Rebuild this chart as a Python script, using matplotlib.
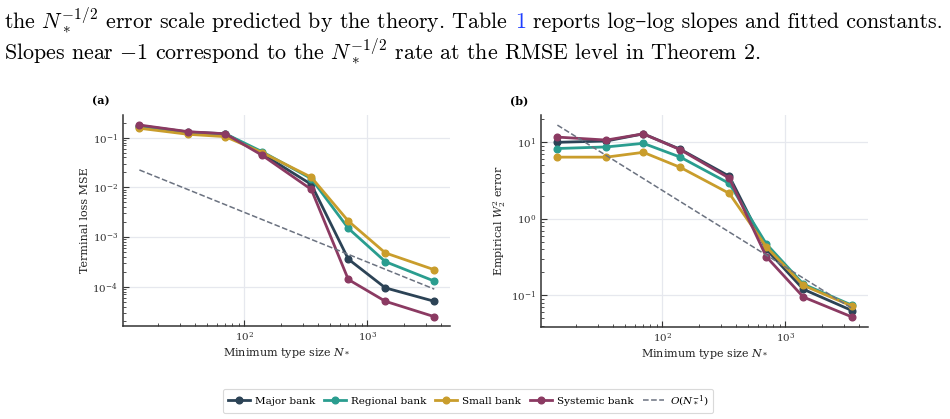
import matplotlib
matplotlib.use("Agg")
import matplotlib.pyplot as plt
import numpy as np

# ---------------- data ----------------
n_star = [14, 35, 70, 140, 350, 700, 1400, 3500]
series_names = ["Major bank", "Regional bank", "Small bank", "Systemic bank"]

mse_major = [0.175, 0.13, 0.12, 0.047, 0.0115, 3.6e-4, 9.5e-5, 5.1e-5]
mse_regional = [0.165, 0.125, 0.12, 0.052, 0.015, 1.5e-3, 3.2e-4, 1.3e-4]
mse_small = [0.155, 0.117, 0.105, 0.050, 0.016, 2.1e-3, 4.8e-4, 2.2e-4]
mse_systemic = [0.18, 0.132, 0.12, 0.044, 0.0091, 1.4e-4, 5.1e-5, 2.5e-5]

w2_major = [10.0, 10.4, 12.9, 8.1, 3.6, 0.40, 0.12, 0.063]
w2_regional = [8.3, 8.7, 9.7, 6.4, 2.9, 0.47, 0.14, 0.074]
w2_small = [6.4, 6.4, 7.4, 4.7, 2.15, 0.43, 0.135, 0.072]
w2_systemic = [11.7, 10.7, 12.9, 8.0, 3.4, 0.32, 0.095, 0.052]

ref_const_mse = 0.314
ref_const_w2 = 235.0

colors = ["#2c4356", "#2a9d8f", "#c99d2c", "#8b3a62"]
ref_color = "#6b7280"

plt.rcParams["font.family"] = ["DejaVu Serif"]
plt.rcParams["mathtext.fontset"] = "dejavuserif"

fig = plt.figure(figsize=(9.5, 4.19), dpi=100)

# ---------------- header text ----------------
renderer = fig.canvas.get_renderer()
text_kw = dict(fontsize=15.8, family=["cmr10", "DejaVu Serif"], va="baseline", ha="left")
plt.rcParams["mathtext.fontset"] = "cm"

def place_line(pieces, x0_px, y_px):
    x = x0_px
    for s, c in pieces:
        t = fig.text(x / 950, 1 - y_px / 419, s, color=c, **text_kw)
        bb = t.get_window_extent(renderer=renderer)
        x += bb.width
    return x

sp = fig.text(0, 0, "a a", **text_kw)
w_aa = fig.text(0, 0, "aa", **text_kw)
space_w = sp.get_window_extent(renderer=renderer).width - w_aa.get_window_extent(renderer=renderer).width
sp.remove(); w_aa.remove()

x = place_line([("the $N_*^{-1/2}$ error scale predicted by the theory. Table", "black")], 4, 28)
x = place_line([("1", "#1f3fff")], x + space_w, 28)
place_line([("reports log\u2013log slopes and fitted constants.", "black")], x + space_w, 28)
place_line([("Slopes near $-1$ correspond to the $N_*^{-1/2}$ rate at the RMSE level in Theorem 2.", "black")], 4, 59)

plt.rcParams["mathtext.fontset"] = "dejavuserif"

# ---------------- axes ----------------
axA = fig.add_axes([123 / 950, 1 - 326 / 419, 327 / 950, 211 / 419])
axB = fig.add_axes([541 / 950, 1 - 326.7 / 419, 327 / 950, 211.7 / 419])

def style(ax):
    ax.set_xscale("log")
    ax.set_yscale("log")
    for s in ["top", "right"]:
        ax.spines[s].set_visible(False)
    for s in ["left", "bottom"]:
        ax.spines[s].set_color("#333333")
        ax.spines[s].set_linewidth(1.1)
    ax.grid(True, which="major", color="#e6e8ee", linewidth=0.9)
    ax.set_axisbelow(True)
    ax.tick_params(which="both", direction="in", colors="#333333", labelsize=7.5)
    ax.tick_params(which="major", length=4)
    ax.tick_params(which="minor", length=2.2)
    ax.set_xlabel("Minimum type size $N_*$", fontsize=8, color="#222222", labelpad=2)

def plot_panel(ax, ys, c_ref):
    for name, y, c in zip(series_names, ys, colors):
        ax.plot(n_star, y, "-o", color=c, lw=2.0, ms=4.8, label=name)
    xr = np.array([n_star[0], n_star[-1]], dtype=float)
    ax.plot(xr, c_ref / xr, "--", color=ref_color, lw=1.1, label="$O(N_*^{-1})$")

style(axA)
plot_panel(axA, [mse_major, mse_regional, mse_small, mse_systemic], ref_const_mse)
axA.set_xlim(10.3, 4700)
axA.set_ylim(10 ** -4.79, 10 ** -0.543)
axA.set_ylabel("Terminal loss MSE", fontsize=8, color="#222222", labelpad=2)

style(axB)
plot_panel(axB, [w2_major, w2_regional, w2_small, w2_systemic], ref_const_w2)
axB.set_xlim(10.3, 4700)
axB.set_ylim(10 ** -1.41, 10 ** 1.357)
axB.set_ylabel("Empirical $W_2^2$ error", fontsize=8, color="#222222", labelpad=2)

fig.text(92 / 950, 1 - 104 / 419, "(a)", fontsize=8, fontweight="bold")
fig.text(510 / 950, 1 - 104 / 419, "(b)", fontsize=8, fontweight="bold")

handles, labels = axA.get_legend_handles_labels()
leg = fig.legend(handles, labels, loc="center", bbox_to_anchor=(468 / 950, 1 - 401 / 419),
                 ncol=5, fontsize=7.5, frameon=True, handlelength=2.1, columnspacing=0.85,
                 handletextpad=0.5, borderpad=0.45)
leg.get_frame().set_edgecolor("#d0d0d0")
leg.get_frame().set_linewidth(0.8)

fig.savefig("out.png", dpi=100)
